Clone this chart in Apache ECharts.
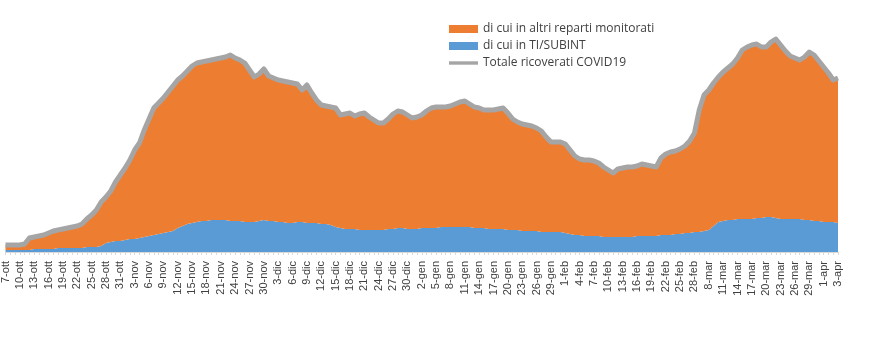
<!DOCTYPE html>
<html>
<head>
<meta charset="utf-8">
<script src="https://cdn.jsdelivr.net/npm/echarts@6/dist/echarts.min.js"></script>
<style>
    html, body { margin: 0; padding: 0; background: #fff; }
    #chart { width: 890px; height: 353px; }
</style>
</head>
<body>
<div id="chart"></div>
<script>
// etichette asse x (una ogni 3 giorni)
const tickLabels = [
    '7-ott', '10-ott', '13-ott', '16-ott', '19-ott', '22-ott', '25-ott', '28-ott', '31-ott',
    '3-nov', '6-nov', '9-nov', '12-nov', '15-nov', '18-nov', '21-nov', '24-nov', '27-nov', '30-nov',
    '3-dic', '6-dic', '9-dic', '12-dic', '15-dic', '18-dic', '21-dic', '24-dic', '27-dic', '30-dic',
    '2-gen', '5-gen', '8-gen', '11-gen', '14-gen', '17-gen', '20-gen', '23-gen', '26-gen', '29-gen',
    '1-feb', '4-feb', '7-feb', '10-feb', '13-feb', '16-feb', '19-feb', '22-feb', '25-feb', '28-feb',
    '8-mar', '11-mar', '14-mar', '17-mar', '20-mar', '23-mar', '26-mar', '29-mar',
    '1-apr', '3-apr'
]

// totale ricoverati COVID19
const totale = [
    280, 280, 280, 280, 320, 560, 600, 640, 680, 760,
    840, 880, 920, 960, 1000, 1040, 1120, 1320, 1480, 1680,
    2000, 2200, 2440, 2800, 3080, 3360, 3680, 4080, 4360, 4880,
    5320, 5760, 5960, 6160, 6400, 6640, 6880, 7040, 7240, 7440,
    7560, 7600, 7640, 7680, 7720, 7760, 7800, 7880, 7760, 7680,
    7560, 7280, 7000, 7120, 7320, 7040, 6960, 6880, 6840, 6800,
    6760, 6720, 6480, 6680, 6360, 6080, 5880, 5840, 5800, 5760,
    5480, 5520, 5560, 5440, 5520, 5560, 5400, 5280, 5160, 5160,
    5320, 5520, 5640, 5600, 5480, 5360, 5400, 5480, 5640, 5760,
    5800, 5800, 5800, 5840, 5920, 6000, 6040, 5920, 5800, 5760,
    5680, 5680, 5680, 5720, 5760, 5560, 5320, 5200, 5120, 5080,
    5040, 4960, 4840, 4600, 4400, 4400, 4400, 4320, 4080, 3840,
    3720, 3680, 3680, 3640, 3560, 3400, 3280, 3160, 3320, 3360,
    3400, 3400, 3440, 3520, 3480, 3440, 3400, 3760, 3920, 4000,
    4040, 4120, 4240, 4440, 4760, 5680, 6280, 6480, 6760, 7000,
    7200, 7360, 7520, 7760, 8080, 8200, 8280, 8320, 8200, 8200,
    8400, 8520, 8280, 8040, 7840, 7760, 7680, 7800, 8000, 7880,
    7640, 7400, 7160, 6880, 6960
]

// di cui in TI/SUBINT
const terapiaIntensiva = [
    80, 80, 80, 80, 80, 80, 120, 120, 120, 120,
    120, 160, 160, 160, 160, 160, 160, 200, 200, 200,
    240, 360, 400, 440, 440, 480, 520, 520, 560, 600,
    640, 680, 720, 760, 800, 840, 960, 1040, 1120, 1160,
    1200, 1240, 1240, 1280, 1280, 1280, 1280, 1240, 1240, 1240,
    1200, 1200, 1200, 1240, 1280, 1240, 1240, 1200, 1200, 1160,
    1160, 1200, 1200, 1160, 1160, 1160, 1120, 1120, 1080, 1000,
    960, 920, 920, 920, 880, 880, 880, 880, 880, 880,
    920, 920, 960, 960, 920, 920, 920, 960, 960, 960,
    960, 1000, 1000, 1000, 1000, 1000, 1000, 1000, 960, 960,
    960, 920, 920, 920, 920, 880, 880, 880, 840, 840,
    840, 840, 800, 800, 800, 800, 800, 760, 720, 680,
    680, 640, 640, 640, 640, 600, 600, 600, 600, 600,
    600, 600, 640, 640, 640, 640, 640, 680, 680, 680,
    720, 720, 760, 760, 800, 800, 840, 880, 1040, 1200,
    1240, 1280, 1280, 1320, 1320, 1320, 1320, 1360, 1360, 1400,
    1400, 1360, 1320, 1320, 1320, 1320, 1320, 1280, 1280, 1240,
    1240, 1200, 1200, 1200, 1160
]

// categorie: un'etichetta ogni 3 giorni
const categorie = []
tickLabels.forEach((l, i) => {
    categorie.push(l)
    if (i < tickLabels.length - 1) categorie.push('', '')
})

const altriReparti = totale.map((v, i) => v - terapiaIntensiva[i])

// icona legenda: linea sottile grigia
const lineIcon = 'path://M0,0 L0,0 M0,2.3 L29,2.3 L29,5.7 L0,5.7 Z M29,8 L29,8'

const chart = echarts.init(document.getElementById('chart'))
chart.setOption({
    animation: false,
    backgroundColor: '#fff',
    textStyle: { fontFamily: 'Liberation Sans' },
    legend: {
        orient: 'vertical',
        left: 449,
        top: 23,
        padding: 0,
        itemWidth: 29,
        itemHeight: 8,
        itemGap: 5,
        symbolKeepAspect: false,
        selectedMode: false,
        textStyle: { fontFamily: 'Open Sans', fontSize: 12, color: '#404040' },
        data: [
            { name: 'di cui in altri reparti monitorati', icon: 'rect' },
            { name: 'di cui in TI/SUBINT', icon: 'rect' },
            { name: 'Totale ricoverati COVID19', icon: lineIcon, itemStyle: { color: '#A5A5A5', borderWidth: 0 } }
        ]
    },
    grid: {
        left: 2,
        right: 52,
        top: 30,
        bottom: 101
    },
    xAxis: {
        type: 'category',
        data: categorie,
        boundaryGap: false,
        axisLine: { lineStyle: { color: '#d9d9d9', width: 1 } },
        axisTick: {
            show: true,
            interval: 0,
            length: 3,
            lineStyle: { color: '#d9d9d9' }
        },
        axisLabel: {
            interval: 0,
            rotate: 90,
            margin: 9,
            fontSize: 11,
            color: '#404040'
        }
    },
    yAxis: {
        type: 'value',
        min: 0,
        max: 8880,
        show: false,
        splitLine: { show: false }
    },
    series: [{
        name: 'di cui in TI/SUBINT',
        type: 'line',
        stack: 'ricoverati',
        data: terapiaIntensiva,
        symbol: 'none',
        lineStyle: { width: 0 },
        itemStyle: { color: '#5B9BD5' },
        areaStyle: { color: '#5B9BD5', opacity: 1 }
    }, {
        name: 'di cui in altri reparti monitorati',
        type: 'line',
        stack: 'ricoverati',
        data: altriReparti,
        symbol: 'none',
        lineStyle: { width: 0 },
        itemStyle: { color: '#ED7D31' },
        areaStyle: { color: '#ED7D31', opacity: 1 }
    }, {
        name: 'Totale ricoverati COVID19',
        type: 'line',
        data: totale,
        symbol: 'none',
        z: 5,
        itemStyle: { color: '#A5A5A5' },
        lineStyle: { width: 5, color: '#A5A5A5', join: 'round' }
    }]
})
</script>
</body>
</html>
